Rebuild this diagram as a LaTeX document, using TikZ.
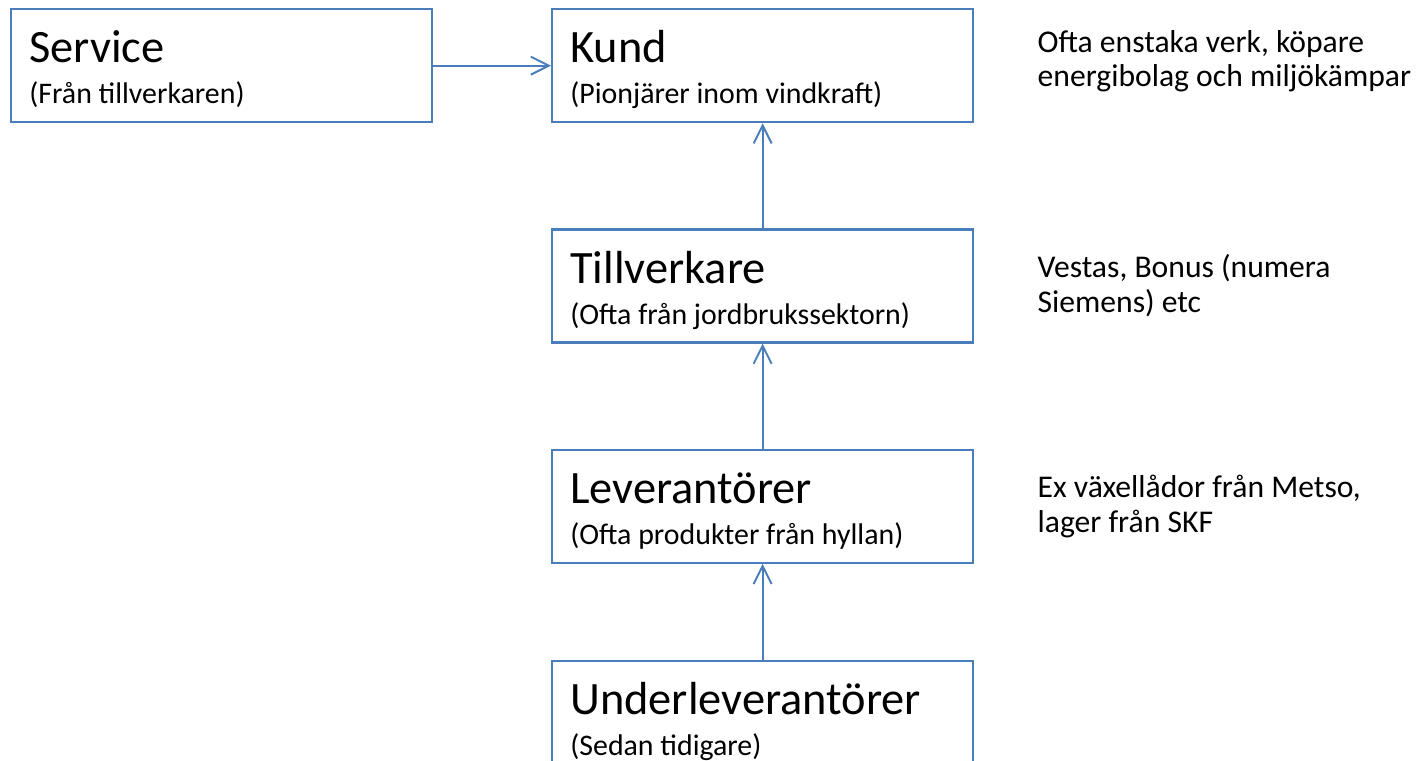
\documentclass[tikz,border=0pt]{standalone}
\usepackage{fontspec}
\setmainfont{Carlito}
\usepackage{tikz}
\usetikzlibrary{positioning, calc, arrows.meta}
\definecolor{boxline}{HTML}{4A7EBB}

\begin{document}
\begin{tikzpicture}[
  box/.style={draw=boxline, line width=1.3pt, minimum width=8.42cm, minimum height=2.26cm,
    anchor=north west, inner sep=0pt},
  title/.style={font=\fontsize{26.4}{31}\selectfont, anchor=base west, inner sep=0pt},
  sub/.style={font=\fontsize{17}{20.4}\selectfont, anchor=base west, inner sep=0pt},
  note/.style={font=\fontsize{18}{19.8}\selectfont, anchor=base west, inner sep=0pt, align=left},
  link/.style={draw=boxline, line width=1.1pt, -{Straight Barb[length=3.6mm, width=3.6mm]}},
]

\useasboundingbox (0,0) rectangle (28.38,-15.22);

% Rutor
\node[box] (service) at (0.2,-0.16) {};
\node[box] (kund) at (11.02,-0.16) {};
\node[box, below=2.1cm of kund] (tillv) {};
\node[box, below=2.1cm of tillv] (lev) {};
\node[box, below=1.92cm of lev] (underlev) {};

% Service
\node[title] (service-t) at ($(service.north west)+(0.38,-1.1)$) {Service};
\node[sub] (service-s) at ($(service.north west)+(0.38,-1.92)$) {(Från tillverkaren)};

% Kund
\node[title] (kund-t) at ($(kund.north west)+(0.38,-1.1)$) {Kund};
\node[sub] (kund-s) at ($(kund.north west)+(0.38,-1.92)$) {(Pionjärer inom vindkraft)};

% Tillverkare
\node[title] (tillv-t) at ($(tillv.north west)+(0.38,-1.1)$) {Tillverkare};
\node[sub] (tillv-s) at ($(tillv.north west)+(0.38,-1.92)$) {(Ofta från jordbrukssektorn)};

% Leverantörer
\node[title] (lev-t) at ($(lev.north west)+(0.38,-1.1)$) {Leverantörer};
\node[sub] (lev-s) at ($(lev.north west)+(0.38,-1.92)$) {(Ofta produkter från hyllan)};

% Underleverantörer
\node[title] (underlev-t) at ($(underlev.north west)+(0.38,-1.1)$) {Underleverantörer};
\node[sub] (underlev-s) at ($(underlev.north west)+(0.38,-1.92)$) {(Sedan tidigare)};

% Kommentarer till höger (base = sista raden)
\node[note] (kund-n) at ($(kund.north east)+(1.26,-1.58)$)
  {Ofta enstaka verk, köpare\\energibolag och miljökämpar};
\node[note] (tillv-n) at ($(tillv.north east)+(1.26,-1.68)$)
  {Vestas, Bonus (numera\\Siemens) etc};
\node[note] (lev-n) at ($(lev.north east)+(1.26,-1.68)$)
  {Ex växellådor från Metso,\\lager från SKF};

% Pilar
\draw[link] (service) -- (kund);
\draw[link] (tillv) -- (kund);
\draw[link] (lev) -- (tillv);
\draw[link] (underlev) -- (lev);

\end{tikzpicture}
\end{document}
